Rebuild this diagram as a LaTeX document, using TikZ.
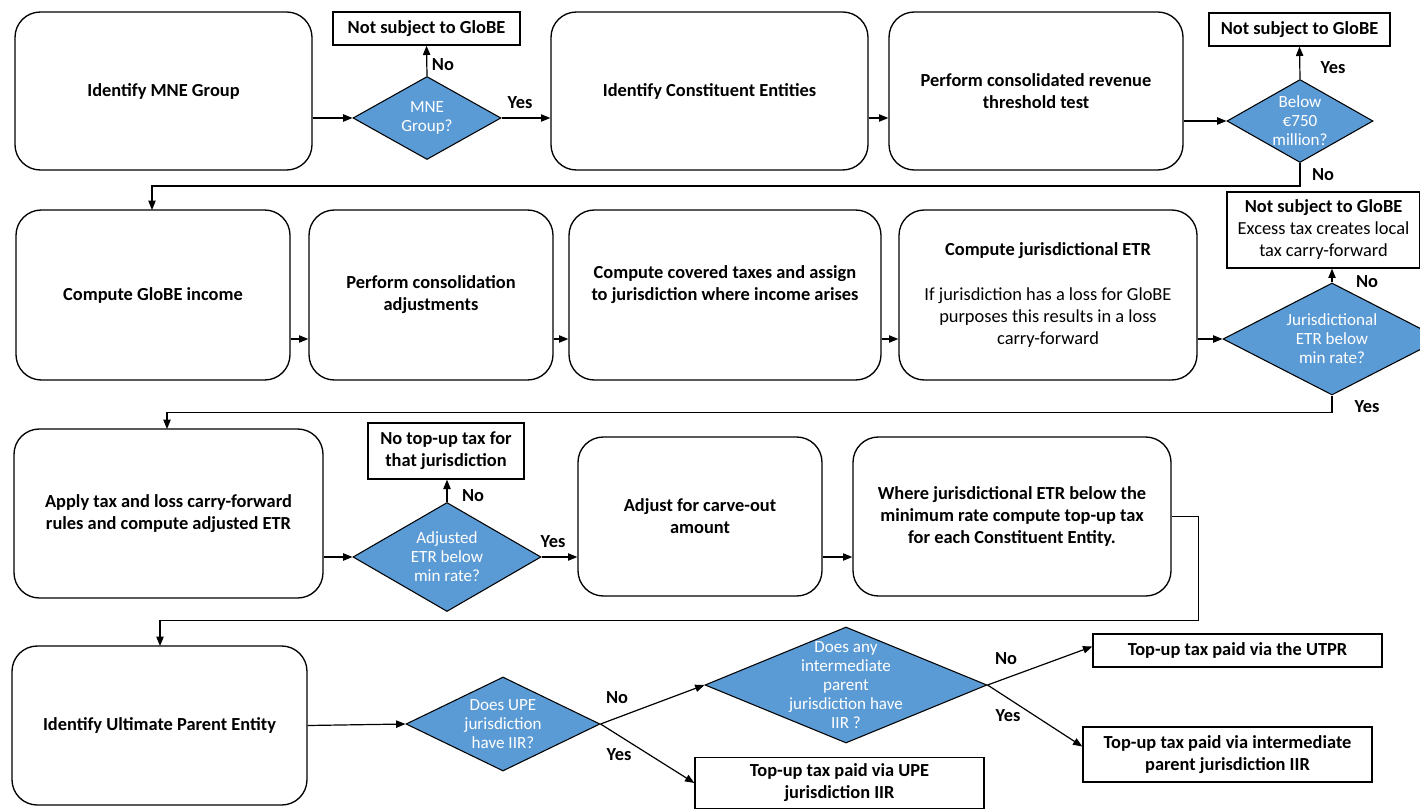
\documentclass[tikz,border=0pt]{standalone}
\usepackage{fontspec}
\setmainfont{Carlito}
\usetikzlibrary{shapes.geometric,arrows.meta}
\definecolor{decisionblue}{HTML}{5B9BD5}

\begin{document}
\begin{tikzpicture}[x=0.75pt,y=-0.75pt,
  stepbox/.style={draw, rounded corners=19pt, line width=1pt, align=center, inner sep=0pt,
    font=\fontsize{13.8}{16.5}\selectfont\bfseries},
  outcome/.style={draw, line width=1pt, align=center, inner sep=0pt,
    font=\fontsize{13.8}{16.5}\selectfont\bfseries},
  decision/.style={diamond, draw, line width=0.8pt, fill=decisionblue, inner sep=0pt},
  qtext/.style={text=white, align=center, font=\fontsize{12.8}{14.25}\selectfont},
  answer/.style={font=\fontsize{13.8}{16.5}\selectfont\bfseries},
  flow/.style={-{Triangle[length=7pt,width=5.5pt]}, line width=0.9pt}]
\useasboundingbox (0,0) rectangle (1420,809);

% row 1
\node[stepbox, minimum width=222.75pt, minimum height=118.5pt] (mne) at (163.5,91) {Identify MNE Group};
\node[decision, minimum width=111pt, minimum height=62.25pt, label={[qtext]center:{MNE\\Group?}}] (ismne) at (427,118) {};
\node[outcome, minimum width=140.25pt, minimum height=24.75pt] (notmne) at (426.5,28.5) {Not subject to GloBE};
\node[stepbox, minimum width=237.75pt, minimum height=118.5pt] (ce) at (709.5,91) {Identify Constituent Entities};
\node[stepbox, minimum width=220.5pt, minimum height=118.5pt] (revtest) at (1036,91) {Perform consolidated revenue\\threshold test};
\node[decision, minimum width=109.5pt, minimum height=62.25pt, label={[qtext]center:{Below\\€750\\million?}}] (below) at (1300,121) {};
\node[outcome, minimum width=135.75pt, minimum height=24.75pt] (notrev) at (1299.5,29.5) {Not subject to GloBE};

\node[answer] (mneno) at (443,65) {No};
\node[answer] (mneyes) at (520,103) {Yes};
\node[answer] (belowyes) at (1333,68) {Yes};
\node[answer] (belowno) at (1323,175) {No};

\draw[flow] (mne.east |- ismne.west) -- (ismne.west);
\draw[flow] (ismne.north) -- (notmne.south);
\draw[flow] (ismne.east) -- (ce.west |- ismne.east);
\draw[flow] (ce.east |- ismne.east) -- (revtest.west |- ismne.east);
\draw[flow] (revtest.east |- below.west) -- (below.west);
\draw[flow] (below.north) -- (notrev.south);
\draw[flow] (below.south) -- ++(0,23) -| (152,210);

% row 2
\node[stepbox, minimum width=205.5pt, minimum height=127.5pt] (income) at (153,295) {Compute GloBE income};
\node[stepbox, minimum width=183pt, minimum height=127.5pt] (consol) at (431,295) {Perform consolidation\\adjustments};
\node[stepbox, minimum width=234pt, minimum height=127.5pt, text depth=18pt] (covered) at (725,295) {Compute covered taxes and assign\\to jurisdiction where income arises};
\node[stepbox, minimum width=223.5pt, minimum height=127.5pt] (juretr) at (1048,295) {Compute jurisdictional ETR\\[17pt]\mdseries If jurisdiction has a loss for GloBE\\\mdseries purposes this results in a loss\\\mdseries carry-forward};
\node[decision, minimum width=163.5pt, minimum height=84pt, label={[qtext]center:{Jurisdictional\\ETR below\\min rate?}}] (etrtest) at (1332,339) {};
\node[outcome, minimum width=144.75pt, minimum height=57pt] (notetr) at (1323.5,230) {Not subject to GloBE\\\mdseries Excess tax creates local\\\mdseries tax carry-forward};

\node[answer] (etrno) at (1367,282) {No};
\node[answer] (etryes) at (1367,407) {Yes};

\draw[flow] (income.east |- etrtest.west) -- (consol.west |- etrtest.west);
\draw[flow] (consol.east |- etrtest.west) -- (covered.west |- etrtest.west);
\draw[flow] (covered.east |- etrtest.west) -- (juretr.west |- etrtest.west);
\draw[flow] (juretr.east |- etrtest.west) -- (etrtest.west);
\draw[flow] (etrtest.north) -- (etrtest.north |- notetr.south);
\draw[flow] (etrtest.south) -- ++(0,17) -| (167,429);

% row 3
\node[stepbox, minimum width=231.75pt, minimum height=126.75pt] (carry) at (168.5,513.5) {Apply tax and loss carry-forward\\rules and compute adjusted ETR};
\node[decision, minimum width=141pt, minimum height=81.75pt, label={[qtext]center:{Adjusted\\ETR below\\min rate?}}] (adjtest) at (447,557) {};
\node[outcome, minimum width=117pt, minimum height=42pt] (notopup) at (446,451) {No top-up tax for\\that jurisdiction};
\node[stepbox, minimum width=183pt, minimum height=119.25pt] (carveout) at (700,516.5) {Adjust for carve-out\\amount};
\node[stepbox, minimum width=238.5pt, minimum height=119.25pt] (topup) at (1012,516.5) {Where jurisdictional ETR below the\\minimum rate compute top-up tax\\for each Constituent Entity.};

\node[answer] (adjno) at (473,496) {No};
\node[answer] (adjyes) at (553,542) {Yes};

\draw[flow] (carry.east |- adjtest.west) -- (adjtest.west);
\draw[flow] (adjtest.north) -- (adjtest.north |- notopup.south);
\draw[flow] (adjtest.east) -- (carveout.west |- adjtest.east);
\draw[flow] (carveout.east |- adjtest.east) -- (topup.west |- adjtest.east);
\draw[flow] (topup.east) -- ++(27,0) -- ++(0,104) -| (160,646);

% row 4
\node[stepbox, minimum width=221.25pt, minimum height=119.25pt] (upe) at (159.5,725.5) {Identify Ultimate Parent Entity};
\node[decision, minimum width=145.5pt, minimum height=70.5pt, label={[qtext]center:{Does UPE\\jurisdiction\\have IIR?}}] (upetest) at (503,724) {};
\node[decision, minimum width=211.5pt, minimum height=87pt, label={[qtext]center:{Does any\\intermediate\\parent\\jurisdiction have\\IIR ?}}] (midtest) at (846,685) {};
\node[outcome, minimum width=216.75pt, minimum height=38.25pt] (paidupe) at (839.5,783) {Top-up tax paid via UPE\\jurisdiction IIR};
\node[outcome, minimum width=216.75pt, minimum height=24.75pt] (paidutpr) at (1237.5,650.5) {Top-up tax paid via the UTPR};
\node[outcome, minimum width=216.75pt, minimum height=41.25pt] (paidmid) at (1227.5,754.5) {Top-up tax paid via intermediate\\parent jurisdiction IIR};

\node[answer] (upeno) at (617,698) {No};
\node[answer] (upeyes) at (619,755) {Yes};
\node[answer] (midno) at (1006,659) {No};
\node[answer] (midyes) at (1008,716) {Yes};

\draw[flow] (upe.east) -- (upetest.west);
\draw[flow] (upetest.east) -- (midtest.west);
\draw[flow] (upetest.east) -- (paidupe.west);
\draw[flow] (midtest.east) -- ([yshift=3pt]paidutpr.west);
\draw[flow] (midtest.east) -- ([yshift=6pt]paidmid.west);
\end{tikzpicture}
\end{document}
